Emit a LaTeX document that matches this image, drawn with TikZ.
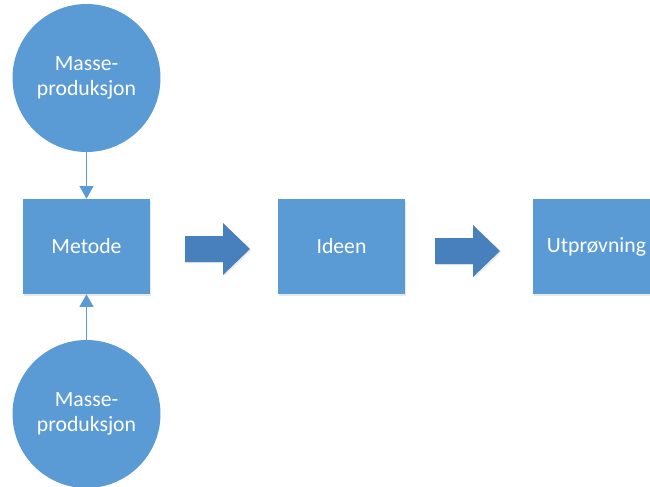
\documentclass[tikz,border=0pt]{standalone}
\usepackage{fontspec}
\setmainfont{Carlito}
\usetikzlibrary{arrows.meta,shadows}
\definecolor{boxblue}{RGB}{91,155,213}
\definecolor{arrowblue}{RGB}{72,128,190}
\tikzset{
  blockbox/.style={draw=none, fill=boxblue, minimum width=95.25pt, minimum height=71.25pt,
    inner sep=0pt, text=white, font=\fontsize{16.3pt}{19pt}\selectfont,
    drop shadow={opacity=0.18, shadow xshift=1pt, shadow yshift=-1.2pt}},
  roundnode/.style={circle, draw=none, fill=boxblue, minimum size=111pt, inner sep=0pt,
    text=white, align=center, font=\fontsize{16.3pt}{19pt}\selectfont},
  thinarrow/.style={draw=boxblue, line width=1.1pt, -{Triangle[width=10.5pt,length=9.5pt]}},
  bigarrow/.style={fill=arrowblue, draw=none,
    drop shadow={opacity=0.15, shadow xshift=1pt, shadow yshift=-1pt}}
}
\begin{document}
\begin{tikzpicture}[x=0.75pt, y=-0.75pt]
  \useasboundingbox (0,0) rectangle (650,486);
  \clip (0,0) rectangle (650,486);

  % circles feeding the method box
  \node[roundnode] (mtop) at (86.5,78) {Masse-\\produksjon};
  \node[roundnode] (mbot) at (86.5,414) {Masse-\\produksjon};

  % process boxes
  \node[blockbox] (metode) at (86.5,246.5) {Metode};
  \node[blockbox] (ideen) at (341.5,246.5) {Ideen};
  \node[blockbox] (utprov) at (596.5,246.5) {Utprøvning};

  % thin connectors into the method box
  \draw[thinarrow] (mtop.south) -- (metode.north);
  \draw[thinarrow] (mbot.north) -- (metode.south);

  % block arrows between the boxes
  \fill[bigarrow] (185,236) -- (223,236) -- (223,223) -- (250,249) -- (223,275)
    -- (223,262) -- (185,262) -- cycle;
  \fill[bigarrow] (435,238) -- (473,238) -- (473,225) -- (500,251) -- (473,277)
    -- (473,264) -- (435,264) -- cycle;
\end{tikzpicture}
\end{document}
